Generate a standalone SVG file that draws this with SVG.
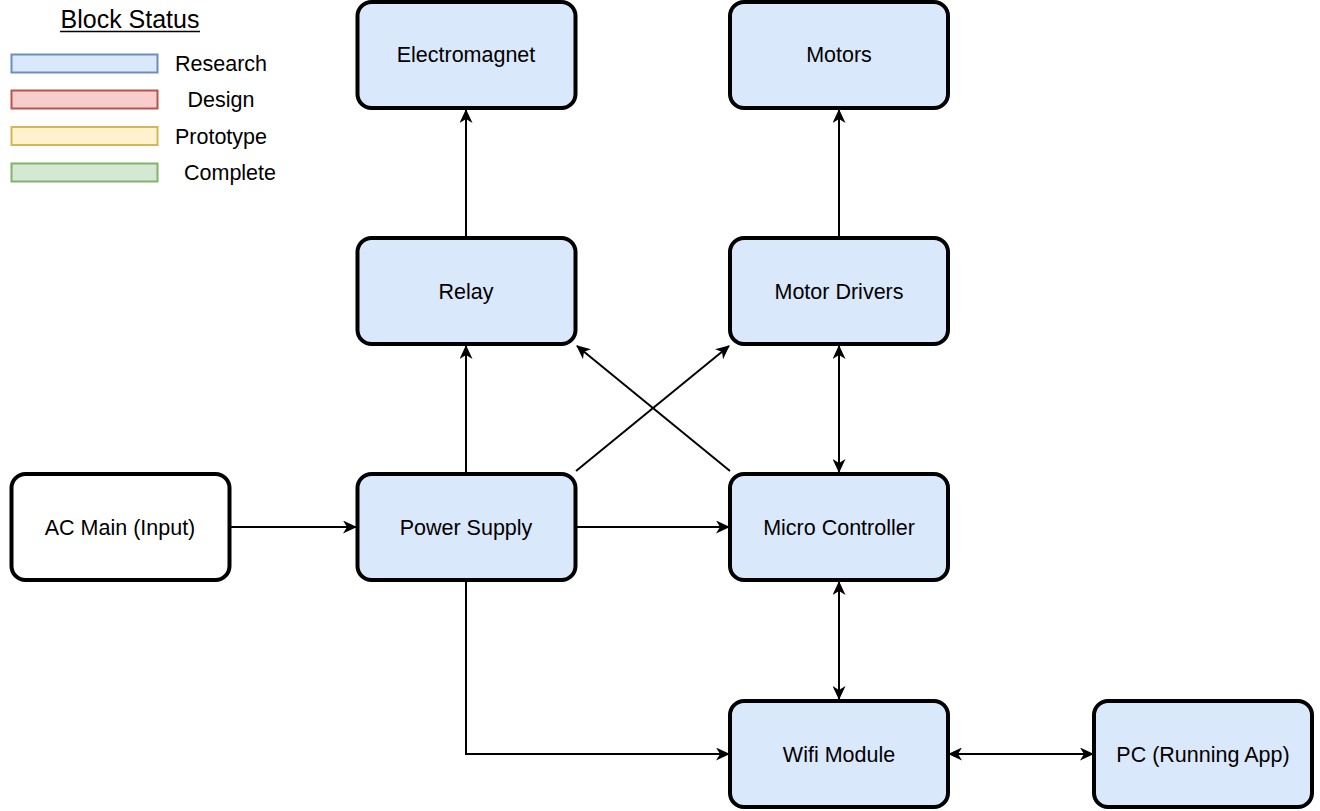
<svg xmlns="http://www.w3.org/2000/svg" width="1320" height="811" viewBox="0 0 1320 811">
  <style>
    text { font-family: "Liberation Sans", Arial, sans-serif; fill: #000; }
    .box { fill: #dae8fc; stroke: #000; stroke-width: 4; }
    .plain { fill: #fff; stroke: #000; stroke-width: 4; }
    .lbl { font-size: 21.5px; text-anchor: middle; dominant-baseline: central; }
    .leg { font-size: 21.5px; text-anchor: middle; dominant-baseline: central; }
    .wire { fill: none; stroke: #000; stroke-width: 2; }
  </style>
  <defs>
    <marker id="arr" viewBox="0 0 14 13" refX="13" refY="6.5" markerWidth="14" markerHeight="13" markerUnits="userSpaceOnUse" orient="auto-start-reverse">
      <path d="M0,0 L14,6.5 L0,13 L4,6.5 z" fill="#000"/>
    </marker>
  </defs>
  <rect width="1320" height="811" fill="#fff"/>

  <!-- Legend -->
  <g id="legend">
    <text x="130" y="19" font-size="25px" text-anchor="middle" dominant-baseline="central">Block Status</text>
    <line x1="60" y1="31.5" x2="200" y2="31.5" stroke="#000" stroke-width="1.5"/>
    <rect x="11.5" y="54.5" width="146" height="18" fill="#dae8fc" stroke="#6c8ebf" stroke-width="2"/>
    <text class="leg" x="221" y="64">Research</text>
    <rect x="11.5" y="90.5" width="146" height="18" fill="#f8cecc" stroke="#b85450" stroke-width="2"/>
    <text class="leg" x="221" y="100">Design</text>
    <rect x="11.5" y="127" width="146" height="18" fill="#fff2cc" stroke="#d6b656" stroke-width="2"/>
    <text class="leg" x="221" y="137">Prototype</text>
    <rect x="11.5" y="163.5" width="146" height="18" fill="#d5e8d4" stroke="#82b366" stroke-width="2"/>
    <text class="leg" x="230" y="173">Complete</text>
  </g>

  <!-- Connectors -->
  <g id="connectors">
    <line class="wire" x1="466" y1="237" x2="466" y2="110" marker-end="url(#arr)"/>
    <line class="wire" x1="839" y1="237" x2="839" y2="110" marker-end="url(#arr)"/>
    <line class="wire" x1="466" y1="473" x2="466" y2="346" marker-end="url(#arr)"/>
    <line class="wire" x1="576" y1="471" x2="729" y2="346" marker-end="url(#arr)"/>
    <line class="wire" x1="730" y1="471" x2="577" y2="346" marker-end="url(#arr)"/>
    <line class="wire" x1="839" y1="346" x2="839" y2="472" marker-start="url(#arr)" marker-end="url(#arr)"/>
    <line class="wire" x1="230" y1="527" x2="356" y2="527" marker-end="url(#arr)"/>
    <line class="wire" x1="576" y1="527" x2="729" y2="527" marker-end="url(#arr)"/>
    <polyline class="wire" points="466,581 466,754 729,754" marker-end="url(#arr)"/>
    <line class="wire" x1="839" y1="582" x2="839" y2="699" marker-start="url(#arr)" marker-end="url(#arr)"/>
    <line class="wire" x1="949" y1="754" x2="1093" y2="754" marker-start="url(#arr)" marker-end="url(#arr)"/>
  </g>

  <!-- Nodes -->
  <g id="electromagnet">
    <rect class="box" x="357.5" y="2" width="218" height="106" rx="14"/>
    <text class="lbl" x="466" y="55">Electromagnet</text>
  </g>
  <g id="motors">
    <rect class="box" x="730" y="2" width="218" height="106" rx="14"/>
    <text class="lbl" x="839" y="55">Motors</text>
  </g>
  <g id="relay">
    <rect class="box" x="357.5" y="238" width="218" height="106" rx="14"/>
    <text class="lbl" x="466" y="292">Relay</text>
  </g>
  <g id="motor-drivers">
    <rect class="box" x="730" y="238" width="218" height="106" rx="14"/>
    <text class="lbl" x="839" y="292">Motor Drivers</text>
  </g>
  <g id="ac-main">
    <rect class="plain" x="11.5" y="474" width="218" height="106" rx="14"/>
    <text class="lbl" x="120" y="528">AC Main (Input)</text>
  </g>
  <g id="power-supply">
    <rect class="box" x="357.5" y="474" width="218" height="106" rx="14"/>
    <text class="lbl" x="466" y="528">Power Supply</text>
  </g>
  <g id="micro-controller">
    <rect class="box" x="730" y="474" width="218" height="106" rx="14"/>
    <text class="lbl" x="839" y="528">Micro Controller</text>
  </g>
  <g id="wifi-module">
    <rect class="box" x="730" y="701" width="218" height="106" rx="14"/>
    <text class="lbl" x="839" y="755">Wifi Module</text>
  </g>
  <g id="pc">
    <rect class="box" x="1094" y="701" width="218" height="106" rx="14"/>
    <text class="lbl" x="1203" y="755">PC (Running App)</text>
  </g>
</svg>
